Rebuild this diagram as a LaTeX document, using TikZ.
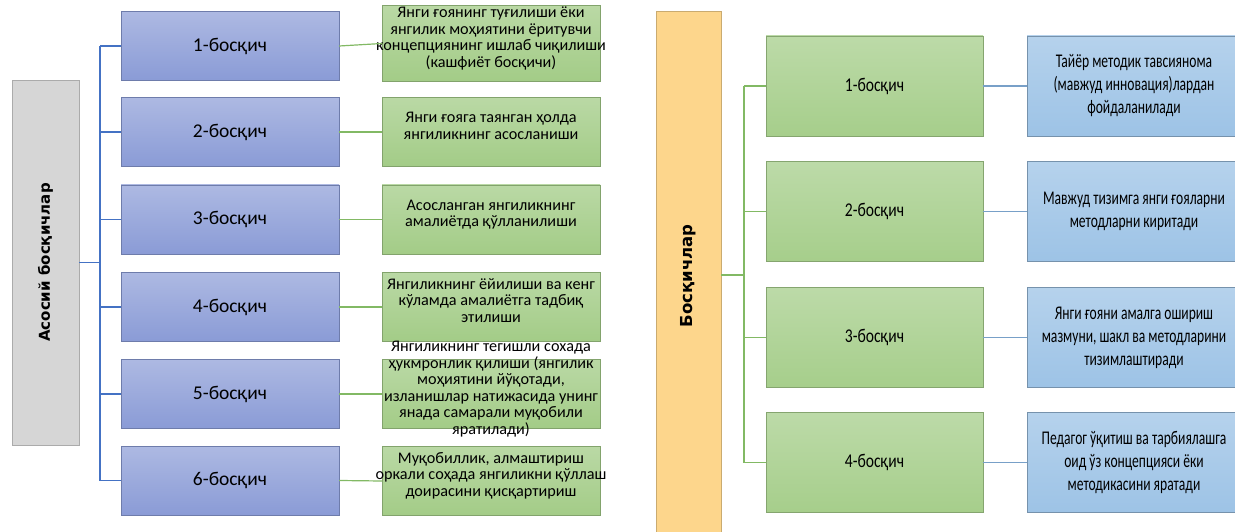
\documentclass[tikz,border=0pt]{standalone}
\usepackage{fontspec}
\setmainfont{Carlito}
\newfontfamily\narrowfont{Carlito}[FakeStretch=0.80]
\newfontfamily\notefont{Carlito}[FakeStretch=0.70]
\newfontfamily\headfont{DejaVu Sans}
\definecolor{stageblue}{RGB}{138,155,214}
\definecolor{ideagreen}{RGB}{163,204,135}
\definecolor{boxgray}{RGB}{214,214,214}
\definecolor{headorange}{RGB}{253,214,140}
\definecolor{rgreen}{RGB}{166,206,139}
\definecolor{rblue}{RGB}{157,195,230}
\definecolor{linkblue}{RGB}{68,114,196}
\definecolor{linkgreen}{RGB}{130,185,100}
\definecolor{linksteel}{RGB}{120,160,200}
% centred lines that spill out of the box without resizing it
\newcommand{\boxlines}[1]{\makebox[0pt]{\smash{\begin{tabular}[c]{@{}c@{}}#1\end{tabular}}}}
\begin{document}
\begin{tikzpicture}[x=1pt,y=-1pt,
    lhead/.style={draw=boxgray!80!black,fill=boxgray,rotate=90,minimum width=365pt,minimum height=67pt,inner sep=0pt,font=\headfont\fontsize{15}{18}\selectfont\bfseries},
    rhead/.style={draw=headorange!80!black,fill=headorange,rotate=90,minimum width=530pt,minimum height=65pt,inner sep=0pt,font=\headfont\fontsize{16.5}{20}\selectfont\bfseries},
    stage/.style={draw=stageblue!80!black,top color=stageblue!70!white,bottom color=stageblue,minimum width=218pt,minimum height=69pt,inner sep=0pt,font=\fontsize{19.5}{22}\selectfont},
    idea/.style={draw=ideagreen!80!black,top color=ideagreen!75!white,bottom color=ideagreen,minimum width=218pt,minimum height=69pt,inner sep=0pt,font=\fontsize{16.2}{16.5}\selectfont},
    rstage/.style={draw=rgreen!80!black,top color=rgreen!75!white,bottom color=rgreen,minimum width=217pt,minimum height=100pt,inner sep=0pt,font=\narrowfont\fontsize{19.5}{22}\selectfont},
    rnote/.style={draw=rblue!75!black,top color=rblue!75!white,bottom color=rblue,minimum width=214pt,minimum height=100pt,inner sep=0pt,align=center,font=\notefont\fontsize{19.4}{23}\selectfont},
    link/.style={line width=1.2pt}]
\useasboundingbox (0,0) rectangle (1235,532);
% left: main stages
\node[lhead] (lhead) at (45.5,262.5) {Асосий босқичлар};
\foreach \i/\y in {1/46,2/132,3/219.5,4/307,5/394,6/480.5}
    \node[stage] (l\i) at (230,\y) {\i-босқич};
\node[idea,minimum height=76pt] (g1) at (491,43.5) {\boxlines{Янги ғоянинг туғилиши ёки\\ янгилик моҳиятини ёритувчи\\ концепциянинг ишлаб чиқилиши\\ (кашфиёт босқичи)}};
\node[idea] (g2) at (491,132) {\boxlines{Янги ғояга таянган ҳолда\\ янгиликнинг асосланиши}};
\node[idea] (g3) at (491,219.5) {\boxlines{Асосланган янгиликнинг\\ амалиётда қўлланилиши}};
\node[idea] (g4) at (491,307) {\boxlines{Янгиликнинг ёйилиши ва кенг\\ кўламда амалиётга тадбиқ\\ этилиши}};
\node[idea] (g5) at (491,394) {\boxlines{Янгиликнинг тегишли сохада\\ ҳукмронлик қилиши (янгилик\\ моҳиятини йўқотади,\\ изланишлар натижасида унинг\\ янада самарали муқобили\\ яратилади)}};
\node[idea] (g6) at (491,481) {\boxlines{Муқобиллик, алмаштириш\\ оркали соҳада янгиликни қўллаш\\ доирасини қисқартириш}};
\coordinate (lhub) at (100,262.5);
\draw[link,linkblue] (l1.west -| lhub) -- (l6.west -| lhub);
\draw[link,linkblue] (lhead.south) -- (lhub);
\foreach \i in {1,...,6} {
    \draw[link,linkblue] (l\i.west) -- (l\i.west -| lhub);
    \draw[link,linkgreen] (l\i.east) -- (g\i.west);
}
% right: stages
\node[rhead] (rhead) at (688.5,276) {Босқичлар};
\foreach \i/\y in {1/86,2/211.5,3/337.5,4/462.5}
    \node[rstage] (r\i) at (874.5,\y) {\i-босқич};
\node[rnote] (b1) at (1134,86) {Тайёр методик тавсиянома\\ (мавжуд инновация)лардан\\ фойдаланилади};
\node[rnote] (b2) at (1134,211.5) {Мавжуд тизимга янги ғояларни\\ методларни киритади};
\node[rnote] (b3) at (1134,337.5) {Янги ғояни амалга ошириш\\ мазмуни, шакл ва методларини\\ тизимлаштиради};
\node[rnote] (b4) at (1134,462.5) {Педагог ўқитиш ва тарбиялашга\\ оид ўз концепцияси ёки\\ методикасини яратади};
\coordinate (rhub) at (744,275);
\draw[link,linkgreen] (r1.west -| rhub) -- (r4.west -| rhub);
\draw[link,linkgreen] (rhead.south |- rhub) -- (rhub);
\foreach \i in {1,...,4} {
    \draw[link,linkgreen] (r\i.west) -- (r\i.west -| rhub);
    \draw[link,linksteel] (r\i.east) -- (b\i.west);
}
\end{tikzpicture}
\end{document}
